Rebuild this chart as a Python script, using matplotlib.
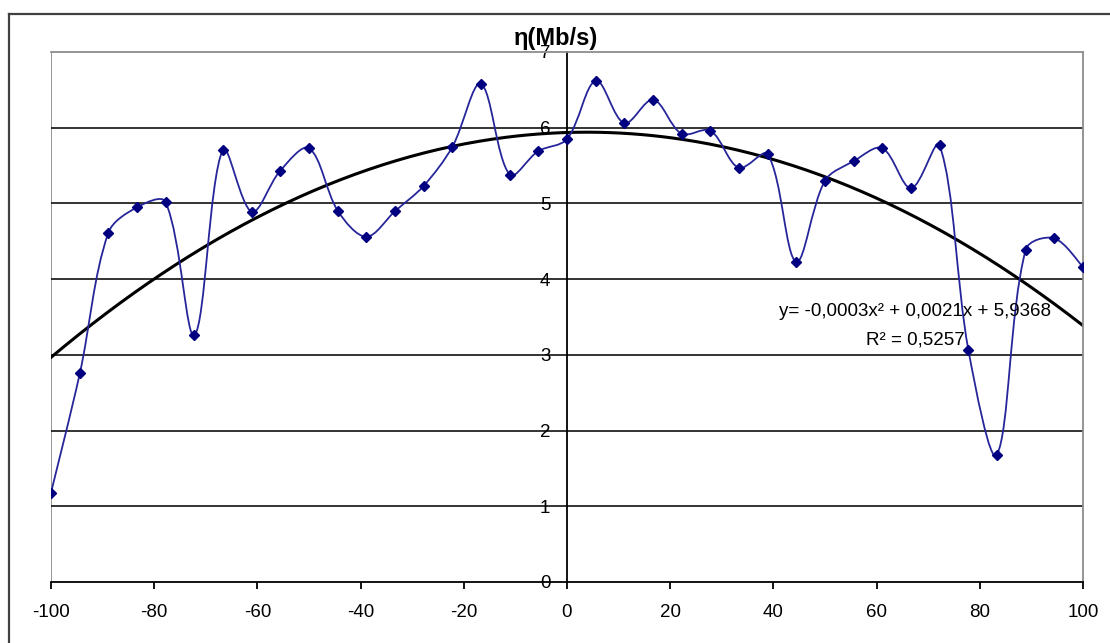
import numpy as np
import matplotlib.pyplot as plt
from matplotlib.path import Path
from matplotlib.patches import PathPatch
from matplotlib.lines import Line2D

plt.rcParams['font.family'] = ['Liberation Sans', 'DejaVu Sans']

# measured throughput vs. angle
angle = [-100, -94.4, -88.9, -83.3, -77.8, -72.2, -66.7, -61.1, -55.6, -50,
         -44.4, -38.9, -33.3, -27.8, -22.2, -16.7, -11.1, -5.6, 0,
         5.6, 11.1, 16.7, 22.2, 27.8, 33.3, 38.9, 44.4, 50, 55.6,
         61.1, 66.7, 72.2, 77.8, 83.3, 88.9, 94.4, 100]
rate = [1.18, 2.76, 4.61, 4.95, 5.02, 3.26, 5.71, 4.89, 5.43, 5.73,
        4.90, 4.56, 4.90, 5.23, 5.75, 6.58, 5.38, 5.69, 5.85,
        6.62, 6.06, 6.37, 5.92, 5.96, 5.47, 5.65, 4.23, 5.30, 5.56,
        5.73, 5.20, 5.77, 3.06, 1.68, 4.39, 4.54, 4.16]

# polynomial trend (a*x^2 + b*x + c) and its R^2
trend = [-0.000276, 0.0021, 5.9368]
r_squared = 0.5257

x_ticks = [-100, -80, -60, -40, -20, 0, 20, 40, 60, 80, 100]
y_ticks = [0, 1, 2, 3, 4, 5, 6, 7]


def smooth_path(ax, x, y, k=1 / 6):
    # smoothed line: cubic Bezier through every point, built in screen
    # space, tangents scaled by the neighbouring segment lengths
    pts = ax.transData.transform(np.column_stack([x, y]))
    n = len(pts)
    seg = np.hypot(*np.diff(pts, axis=0).T)
    tang = np.empty_like(pts)
    for i in range(n):
        tang[i] = pts[min(i + 1, n - 1)] - pts[max(i - 1, 0)]
    verts = [pts[0]]
    codes = [Path.MOVETO]
    for i in range(n - 1):
        d = seg[i]
        d_prev = seg[i - 1] if i > 0 else d
        d_next = seg[i + 1] if i + 1 < n - 1 else d
        c1 = pts[i] + tang[i] * k * 2 * d / (d_prev + d)
        c2 = pts[i + 1] - tang[i + 1] * k * 2 * d / (d + d_next)
        verts += [c1, c2, pts[i + 1]]
        codes += [Path.CURVE4] * 3
    verts = ax.transData.inverted().transform(np.array(verts))
    return Path(verts, codes)


fig = plt.figure(figsize=(11.1, 6.43), dpi=100)
ax = fig.add_axes([51 / 1110, 1 - 582 / 643, 1032 / 1110, 530 / 643])
ax.set_xlim(-100, 100)
ax.set_ylim(0, 7)

# horizontal gridlines
for v in y_ticks[1:-1]:
    ax.axhline(v, color='#111111', lw=1.2, zorder=1)

# plot area frame: grey box, y axis crossing at x = 0
ax.spines['left'].set_position(('data', 0))
ax.spines['left'].set_color('black')
ax.spines['left'].set_linewidth(1.3)
ax.spines['bottom'].set_color('black')
ax.spines['bottom'].set_linewidth(1.3)
for side in ('top', 'right'):
    ax.spines[side].set_color('#8c8c8c')
    ax.spines[side].set_linewidth(1.3)
ax.axvline(-100, color='#8c8c8c', lw=1.3, zorder=0.5)

ax.set_xticks(x_ticks)
ax.set_yticks(y_ticks)
ax.tick_params(axis='x', direction='out', length=5, width=1.3, pad=11,
               labelsize=13.5, colors='black')
ax.tick_params(axis='y', length=0, pad=12, labelsize=13.5, colors='black')
ax.set_xticklabels([str(t) for t in x_ticks])
ax.set_yticklabels([str(t) for t in y_ticks])

# data series: smoothed line with diamond markers
ax.add_patch(PathPatch(smooth_path(ax, angle, rate), fill=False,
                       edgecolor='#26269a', lw=1.3, zorder=3))
ax.plot(angle, rate, ls='none', marker='D', ms=5.5, color='#000080', zorder=4)

# quadratic trend line
xs = np.linspace(-100, 100, 300)
ax.plot(xs, np.polyval(trend, xs), color='black', lw=2.2, zorder=2)

eq = 'y= {:.4f}x² + {:.4f}x + {:.4f}'.format(*trend).replace('.', ',')
r2 = 'R² = {:.4f}'.format(r_squared).replace('.', ',')
ax.text(67.5, 3.57, eq, ha='center', va='center', fontsize=13.5, zorder=5)
ax.text(67.5, 3.2, r2, ha='center', va='center', fontsize=13.5, zorder=5)

fig.text(556 / 1110, 1 - 38 / 643, 'η(Mb/s)', ha='center', va='center',
         fontsize=17, fontweight='bold')

# outer chart border
fig.add_artist(Line2D([9 / 1110, 9 / 1110], [0, 1 - 14 / 643],
                      transform=fig.transFigure, color='#404040', lw=1.6))
fig.add_artist(Line2D([9 / 1110, 1], [1 - 14 / 643, 1 - 14 / 643],
                      transform=fig.transFigure, color='#404040', lw=1.6))

fig.savefig('out.png', dpi=100)
